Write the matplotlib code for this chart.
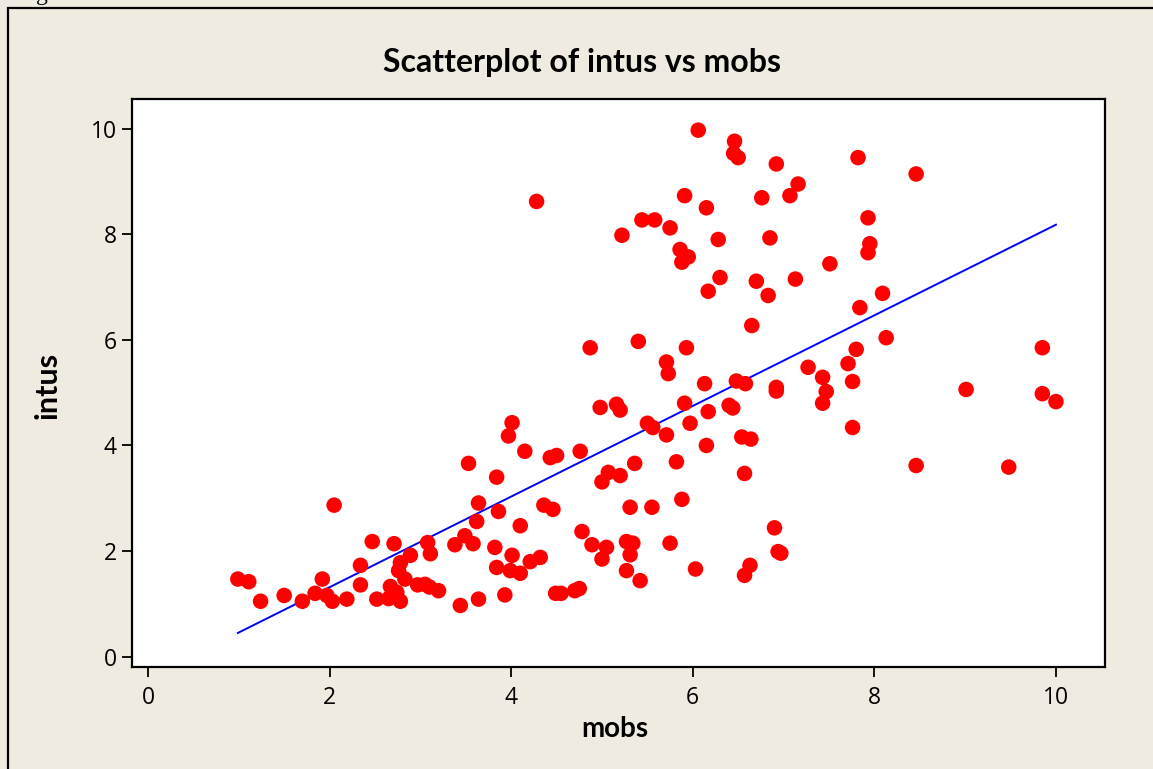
import matplotlib
matplotlib.use("Agg")
import matplotlib.pyplot as plt
from matplotlib.patches import Rectangle
import numpy as np

mobs = [0.99, 1.11, 1.24, 1.50, 1.70, 1.84, 1.92, 1.97, 2.03, 2.05,
        2.19, 2.34, 2.34, 2.47, 2.52, 2.65, 2.67, 2.71, 2.78, 2.76,
        2.83, 2.89, 2.74, 2.78, 2.97, 3.05, 3.10, 3.20, 3.08, 3.11,
        3.38, 3.49, 3.58, 3.44, 3.64, 3.53, 3.64, 3.62, 3.82, 3.84,
        3.84, 3.86, 3.93, 4.01, 3.99, 4.10, 4.01, 3.97, 4.10, 4.15,
        4.21, 4.32, 4.28, 4.36, 4.46, 4.43, 4.50, 4.49, 4.55, 4.70,
        4.75, 4.76, 4.78, 4.87, 4.89, 5.05, 5.00, 4.98, 5.16, 5.20,
        5.07, 5.00, 5.20, 5.22, 5.27, 5.34, 5.31, 5.27, 5.31, 5.36,
        5.40, 5.42, 5.44, 5.50, 5.56, 5.55, 5.58, 5.71, 5.73, 5.71,
        5.75, 5.75, 5.82, 5.86, 5.88, 5.95, 5.88, 5.91, 5.93, 5.91,
        5.97, 6.03, 6.06, 6.13, 6.15, 6.15, 6.17, 6.17, 6.28, 6.30,
        6.40, 6.44, 6.46, 6.45, 6.50, 6.48, 6.58, 6.54, 6.64, 6.57,
        6.57, 6.63, 6.65, 6.70, 6.76, 6.83, 6.85, 6.90, 6.92, 6.92,
        6.92, 6.94, 6.97, 7.07, 7.13, 7.16, 7.27, 7.43, 7.47, 7.43,
        7.51, 7.71, 7.76, 7.76, 7.80, 7.82, 7.84, 7.93, 7.95, 7.93,
        8.09, 8.13, 8.46, 8.46, 9.01, 9.48, 9.85, 9.85, 10.00]

intus = [1.47, 1.42, 1.05, 1.16, 1.05, 1.20, 1.47, 1.16, 1.05, 2.87,
         1.09, 1.73, 1.36, 2.18, 1.09, 1.10, 1.33, 2.14, 1.78, 1.63,
         1.47, 1.92, 1.22, 1.05, 1.36, 1.37, 1.32, 1.25, 2.16, 1.95,
         2.12, 2.29, 2.14, 0.97, 1.09, 3.66, 2.91, 2.56, 2.07, 1.69,
         3.40, 2.75, 1.17, 1.92, 1.63, 1.58, 4.43, 4.18, 2.48, 3.89,
         1.80, 1.88, 8.62, 2.87, 2.79, 3.77, 3.81, 1.20, 1.20, 1.25,
         1.29, 3.89, 2.37, 5.85, 2.12, 2.07, 1.85, 4.72, 4.78, 4.67,
         3.49, 3.31, 3.43, 7.98, 2.18, 2.15, 1.93, 1.63, 2.83, 3.66,
         5.97, 1.44, 8.27, 4.42, 4.34, 2.83, 8.27, 5.58, 5.36, 4.20,
         2.15, 8.12, 3.69, 7.71, 7.47, 7.57, 2.98, 8.73, 5.85, 4.80,
         4.42, 1.66, 9.97, 5.17, 8.50, 4.00, 4.64, 6.92, 7.90, 7.18,
         4.76, 4.71, 9.76, 9.53, 9.45, 5.22, 5.17, 4.16, 4.12, 3.47,
         1.54, 1.73, 6.27, 7.11, 8.69, 6.84, 7.93, 2.44, 9.33, 5.10,
         5.03, 1.99, 1.96, 8.73, 7.15, 8.95, 5.48, 5.29, 5.02, 4.80,
         7.44, 5.55, 5.21, 4.34, 5.82, 9.45, 6.61, 8.31, 7.82, 7.65,
         6.88, 6.04, 9.14, 3.62, 5.06, 3.59, 5.85, 4.98, 4.83]

fit_intercept = -0.40
fit_slope = 0.858

x_ticks = [0, 2, 4, 6, 8, 10]
y_ticks = [0, 2, 4, 6, 8, 10]

bg = "#EFEBE1"
W, H = 1153, 769
fig = plt.figure(figsize=(W / 100, H / 100), dpi=100, facecolor=bg)

# outer frame (cropped at right/bottom)
fig.patches.append(Rectangle((8 / W, -0.05), 1.2, 1 - 8 / H + 0.05,
                             transform=fig.transFigure, fill=False,
                             edgecolor="black", linewidth=1.6, zorder=0))
fig.text(36 / W, 1.0, "g", family="Liberation Serif", fontsize=17,
         va="baseline", ha="left")

ax = fig.add_axes([132 / W, 1 - 667 / H, (1105 - 132) / W, (667 - 99) / H])
ax.set_facecolor("white")

ax.scatter(mobs, intus, s=125, color="#FF0000", edgecolors="none", zorder=3)

xl = np.array([min(mobs), max(mobs)])
ax.plot(xl, fit_intercept + fit_slope * xl, color="#0000FF", linewidth=1.4, zorder=2)

ax.set_xlim(-0.176, 10.54)
ax.set_ylim(-0.195, 10.56)
ax.set_xticks(x_ticks)
ax.set_yticks(y_ticks)
ax.tick_params(direction="out", length=7, width=1.3, pad=4)
ax.tick_params(axis="x", pad=7)
for lab in ax.get_xticklabels() + ax.get_yticklabels():
    lab.set_fontfamily("Open Sans")
    lab.set_fontsize(16.5)
for s in ax.spines.values():
    s.set_linewidth(1.6)

fig.text(582 / W, 1 - 72 / H, "Scatterplot of intus vs mobs", family="Lato",
         fontsize=23, fontweight="bold", ha="center", va="baseline")
fig.text(615 / W, 1 - 737 / H, "mobs", family="Lato",
         fontsize=20, fontweight="bold", ha="center", va="baseline")
fig.text(62 / W, 1 - 385 / H, "intus", family="Lato", rotation=90,
         fontsize=22, fontweight="bold", ha="right", va="center")

fig.savefig("out.png", dpi=100, facecolor=bg)
